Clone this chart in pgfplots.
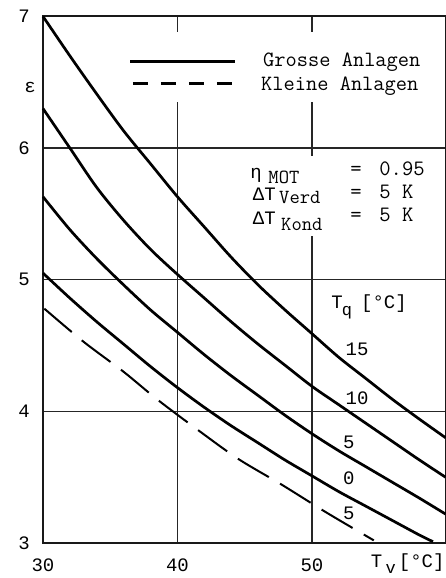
\documentclass[border=0pt]{standalone}
\usepackage{fontspec}
\setmainfont{Liberation Mono}
\usepackage{pgfplots}
\pgfplotsset{compat=1.18}
\newcommand{\fs}[1]{\fontsize{#1}{#1}\selectfont}
\begin{document}
\begin{tikzpicture}
\begin{axis}[name=ax, scale only axis, width=402.5bp, height=526.6bp,
  xmin=30, xmax=59.93, ymin=3, ymax=7,
  xtick={30,40,50}, ytick={3,4,5,6,7},
  grid=major, grid style={line width=1.3bp, black!85},
  major tick length=0pt,
  axis line style={line width=2bp, black!90},
  /pgf/number format/assume math mode=true,
  ticklabel style={font=\fs{19bp}},
  xticklabel style={anchor=center, yshift=-22bp},
  yticklabel style={anchor=center, xshift=-19bp},
  clip=false]
% white backgrounds of texts
\fill[white] (36.1,6.878) rectangle (59.5,6.347);
\fill[white] (45.0,5.937) rectangle (59.5,5.329);
\node[fill=white, inner sep=1.5bp, font=\fs{19bp}] at (53.35,4.098) {10};
% legend
\draw[line width=2.2bp] (36.47,6.658) -- (44.27,6.658);
\draw[line width=2.2bp, dash pattern=on 15bp off 13bp] (36.69,6.491) -- (44.13,6.491);
\node[anchor=west, inner sep=0, font=\ttfamily\fs{21.8bp}] at (46.36,6.65) {Grosse Anlagen};
\node[anchor=west, inner sep=0, font=\ttfamily\fs{21.8bp}] at (46.21,6.468) {Kleine Anlagen};
% parameters
\node[anchor=base, inner sep=0, font=\fs{19bp}] at (45.84,5.77) {η};
\node[anchor=base west, inner sep=0, font=\ttfamily\fs{20bp}] at (46.75,5.73) {MOT};
\node[anchor=base, inner sep=0, font=\ttfamily\fs{22bp}] at (53.27,5.79) {=};
\node[anchor=base west, inner sep=0, font=\ttfamily\fs{22bp}] at (55.0,5.79) {0.95};
\node[anchor=base west, inner sep=0, font=\fs{19bp}] at (45.6,5.6) {ΔT};
\node[anchor=base west, inner sep=0, font=\ttfamily\fs{20bp}] at (47.55,5.578) {Verd};
\node[anchor=base, inner sep=0, font=\ttfamily\fs{22bp}] at (53.27,5.618) {=};
\node[anchor=base west, inner sep=0, font=\ttfamily\fs{22bp}] at (55.0,5.618) {5 K};
\node[anchor=base west, inner sep=0, font=\fs{19bp}] at (45.6,5.42) {ΔT};
\node[anchor=base west, inner sep=0, font=\ttfamily\fs{20bp}] at (47.7,5.375) {Kond};
\node[anchor=base, inner sep=0, font=\ttfamily\fs{22bp}] at (53.27,5.445) {=};
\node[anchor=base west, inner sep=0, font=\ttfamily\fs{22bp}] at (55.0,5.445) {5 K};
% labels
\node[inner sep=0, font=\fs{19bp}] at (29.03,6.46) {ε};
\node[inner sep=0, font=\fs{19bp}] at (51.86,4.828) {T};
\node[inner sep=0, font=\fs{17bp}] at (52.6,4.75) {q};
\node[inner sep=0, font=\fs{19bp}] at (55.35,4.82) {[°C]};
\node[inner sep=0, font=\fs{19bp}] at (53.35,4.47) {15};
\node[inner sep=0, font=\fs{19bp}] at (52.75,3.764) {5};
\node[inner sep=0, font=\fs{19bp}] at (52.75,3.49) {0};
\node[inner sep=0, font=\fs{19bp}] at (52.75,3.225) {5};
\node[inner sep=0, font=\fs{19bp}] at (54.8,2.86) {T};
\node[inner sep=0, font=\fs{17bp}] at (55.85,2.805) {v};
\node[anchor=west, inner sep=0, font=\fs{19bp}] at (56.45,2.85) {[°C]};
% curves, Grosse Anlagen
\addplot[line width=2.7bp, smooth] coordinates {(30,7.00) (32,6.70) (34,6.41) (36,6.13) (38,5.88) (40,5.63) (42,5.40) (44,5.17) (46,4.96) (48,4.77) (50,4.59) (52,4.41) (54,4.25) (56,4.09) (58,3.94) (59.93,3.80)};
\addplot[line width=2.7bp, smooth] coordinates {(30,6.30) (32,6.00) (34,5.70) (36,5.45) (38,5.23) (40,5.04) (42,4.86) (44,4.68) (46,4.51) (48,4.35) (50,4.19) (52,4.05) (54,3.91) (56,3.77) (58,3.63) (59.93,3.50)};
\addplot[line width=2.7bp, smooth] coordinates {(30,5.63) (32,5.38) (34,5.16) (36,4.96) (38,4.77) (40,4.60) (42,4.43) (44,4.27) (46,4.12) (48,3.97) (50,3.83) (52,3.70) (54,3.58) (56,3.46) (58,3.34) (59.93,3.22)};
\addplot[line width=2.7bp, smooth] coordinates {(30,5.05) (32,4.86) (34,4.68) (36,4.51) (38,4.34) (40,4.18) (42,4.03) (44,3.89) (46,3.76) (48,3.63) (50,3.51) (52,3.39) (54,3.28) (56,3.17) (58,3.06) (59,3.01)};
% Kleine Anlagen
\addplot[line width=2bp, smooth, dash pattern=on 36bp off 13bp] coordinates {(30.1,4.78) (33,4.53) (36,4.30) (38.5,4.09) (41.5,3.86) (44.5,3.64) (47.8,3.44) (51.1,3.23) (54.6,3.02)};
\end{axis}
\pgfresetboundingbox
\path[use as bounding box] ([xshift=-43bp,yshift=-35bp]ax.south west) rectangle ([xshift=0.5bp,yshift=16.4bp]ax.north east);
\end{tikzpicture}
\end{document}
